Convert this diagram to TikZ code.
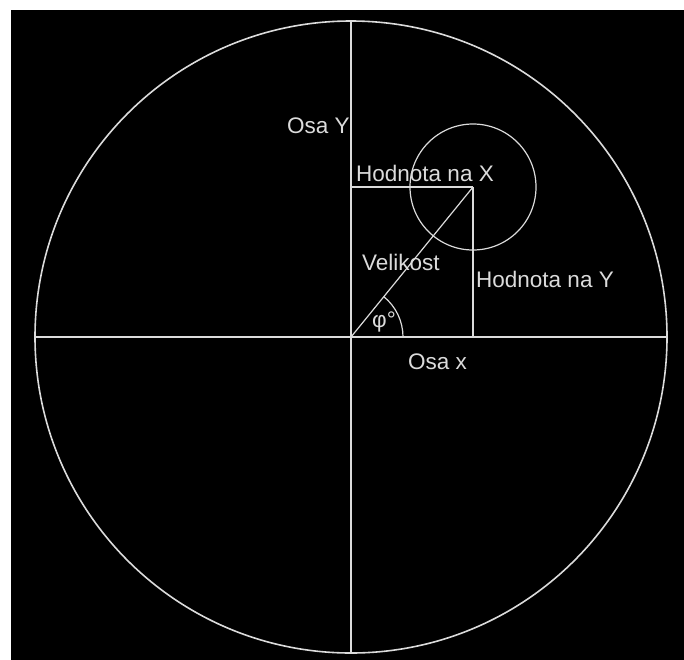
\documentclass[tikz,border=0pt]{standalone}
\usepackage{fontspec}
\setmainfont{Liberation Sans}
\usetikzlibrary{positioning}

\begin{document}
\begin{tikzpicture}[
    x=1pt, y=-1pt,
    line/.style={draw=white!86!black, line width=1.6pt},
    thin line/.style={draw=white!86!black, line width=1.2pt},
    lbl/.style={text=white!86!black, inner sep=0pt, anchor=base west,
                font=\fontsize{22.5}{26}\selectfont}
]
\useasboundingbox (0,0) rectangle (684,659);
\fill [white] (0,0) rectangle (684,659);
\fill [black] (11,10) rectangle (690,665);

% axes and points
\coordinate (o) at (351,337);
\coordinate (xl) at (35,337);
\coordinate (xr) at (667,337);
\coordinate (yt) at (351,21);
\coordinate (yb) at (351,653);
\coordinate (p) at (473,187);
\coordinate (px) at (351,187);
\coordinate (py) at (473,337);

\draw [line] (o) circle (316);
\draw [line] (xl) -- (xr);
\draw [line] (yt) -- (yb);

\draw [line] (px) -- (p);
\draw [line] (p) -- (py);
\draw [thin line] (o) -- (p);
\draw [thin line] (p) circle (63);
\draw [thin line] ([xshift=52pt]o) arc (0:-50.9:52);

% labels
\node (osay) [lbl] at (287,133) {Osa Y};
\node (hx) [lbl] at (356,181) {Hodnota na X};
\node (vel) [lbl] at (362,270) {Velikost};
\node (hy) [lbl] at (476,287) {Hodnota na Y};
\node (phi) [lbl] at (372,327) {φ°};
\node (osax) [lbl] at (408,369) {Osa x};

\end{tikzpicture}
\end{document}
